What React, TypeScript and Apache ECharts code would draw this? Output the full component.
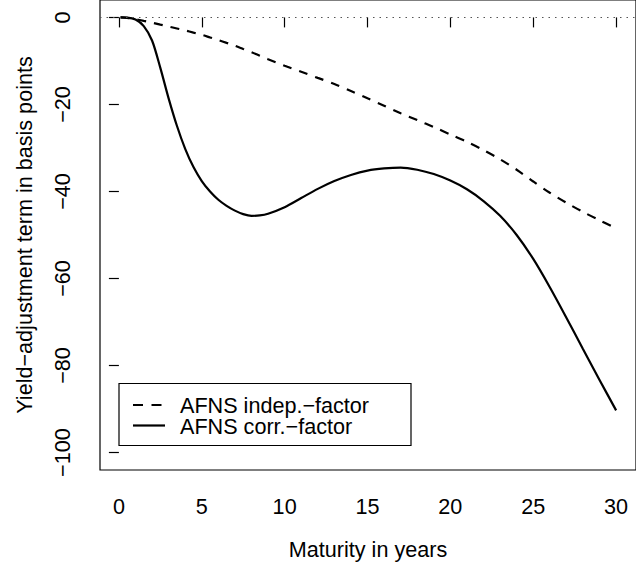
import React, { useEffect, useRef } from "react";
import * as echarts from "echarts";

const maturities = [0.1, 0.5, 1, 1.5, 2, 2.5, 3, 3.5, 4, 4.5, 5, 5.5, 6, 6.5, 7, 7.5, 8, 8.5, 9, 10, 11, 12, 13, 14, 15, 16, 17, 18, 19, 20, 21, 22, 23, 24, 25, 26, 27, 28, 29, 30];
const indepFactor = [0, -0.1, -0.4, -0.8, -1.2, -1.65, -2.1, -2.55, -3.0, -3.5, -4.0, -4.6, -5.2, -5.85, -6.5, -7.25, -8.0, -8.8, -9.6, -11.1, -12.5, -13.9, -15.3, -16.9, -18.6, -20.3, -22.0, -23.6, -25.2, -26.9, -28.6, -30.5, -32.6, -35.0, -37.7, -40.3, -42.6, -44.7, -46.6, -48.5];
const corrFactor = [0, -0.05, -0.5, -2.0, -5.3, -11.6, -18.6, -24.9, -30.2, -34.4, -37.6, -40.0, -41.9, -43.3, -44.4, -45.2, -45.6, -45.5, -45.1, -43.6, -41.5, -39.4, -37.6, -36.2, -35.2, -34.7, -34.5, -35.0, -36.0, -37.5, -39.5, -42.2, -45.6, -50.0, -55.5, -62.0, -69.0, -76.2, -83.3, -90.3];
const xTicks = [0, 5, 10, 15, 20, 25, 30];
const yTicks = [-100, -80, -60, -40, -20, 0];
const seriesNames = ["AFNS indep.\u2212factor", "AFNS corr.\u2212factor"];

const FONT = "'Liberation Sans', Arial, Helvetica, sans-serif";
const FS = 21.6;

export default function App() {
  const ref = useRef<HTMLDivElement>(null);
  useEffect(() => {
    if (!ref.current) return;
    const chart = echarts.init(ref.current, undefined, { renderer: "svg" });
    const fmt = (v: number) => String(v).replace("-", "\u2212");
    chart.setOption({
      animation: false,
      backgroundColor: "#fff",
      textStyle: { fontFamily: FONT },
      grid: {
        left: 100,
        top: 0,
        right: -5,
        bottom: 97,
        show: true,
        borderColor: "#000",
        borderWidth: 1.2,
        backgroundColor: "transparent",
      },
      xAxis: {
        type: "value",
        min: -1.14,
        max: 31.2,
        name: "Maturity in years",
        nameLocation: "middle",
        nameGap: 68,
        nameTextStyle: { fontSize: FS, color: "#000", fontFamily: FONT },
        axisLine: { show: false },
        splitLine: { show: false },
        axisTick: { show: true, length: 10, inside: false, customValues: xTicks, lineStyle: { color: "#000", width: 1.2 } },
        axisLabel: { customValues: xTicks, fontSize: FS, color: "#000", margin: 25, fontFamily: FONT },
      },
      yAxis: {
        type: "value",
        min: -104,
        max: 4,
        name: "Yield\u2212adjustment term in basis points",
        nameLocation: "middle",
        nameGap: 65,
        nameTextStyle: { fontSize: FS, color: "#000", fontFamily: FONT },
        axisLine: { show: false },
        splitLine: { show: false },
        axisTick: { show: true, length: 10, inside: false, customValues: yTicks, lineStyle: { color: "#000", width: 1.2 } },
        axisLabel: { customValues: yTicks, fontSize: FS, color: "#000", margin: 27, rotate: 90, formatter: fmt, fontFamily: FONT },
      },
      graphic: [
        {
          type: "group",
          z: 100,
          children: [
            {
              type: "rect",
              shape: { x: 119, y: 383.5, width: 292, height: 62 },
              style: { fill: "#fff", stroke: "#000", lineWidth: 1.2 },
            },
            {
              type: "line",
              shape: { x1: 133, y1: 405, x2: 162, y2: 405 },
              style: { stroke: "#000", lineWidth: 2.2, lineDash: [10, 8.5] },
            },
            {
              type: "line",
              shape: { x1: 133, y1: 425.5, x2: 165, y2: 425.5 },
              style: { stroke: "#000", lineWidth: 2.2 },
            },
            {
              type: "text",
              x: 180,
              y: 405.5,
              style: { text: seriesNames[0], font: `${FS}px ${FONT}`, lineHeight: 18, fill: "#000", verticalAlign: "middle", align: "left" },
            },
            {
              type: "text",
              x: 180,
              y: 426.5,
              style: { text: seriesNames[1], font: `${FS}px ${FONT}`, lineHeight: 18, fill: "#000", verticalAlign: "middle", align: "left" },
            },
          ],
        },
      ],
      series: [
        {
          name: seriesNames[0],
          type: "line",
          showSymbol: false,
          symbol: "none",
          smooth: 0.3,
          data: maturities.map((m, i) => [m, indepFactor[i]]),
          lineStyle: { color: "#000", width: 2.2, type: [9, 8] },
          itemStyle: { color: "#000" },
          markLine: {
            silent: true,
            symbol: "none",
            label: { show: false },
            lineStyle: { color: "#555", type: [1.5, 5], width: 1.2 },
            data: [{ yAxis: 0 }],
          },
          z: 3,
        },
        {
          name: seriesNames[1],
          type: "line",
          showSymbol: false,
          symbol: "none",
          smooth: 0.3,
          data: maturities.map((m, i) => [m, corrFactor[i]]),
          lineStyle: { color: "#000", width: 2.2, type: "solid" },
          itemStyle: { color: "#000" },
          z: 3,
        },
      ],
    });
    return () => chart.dispose();
  }, []);
  return <div ref={ref} style={{ width: 636, height: 567, position: "absolute", left: 0, top: 0 }} />;
}
